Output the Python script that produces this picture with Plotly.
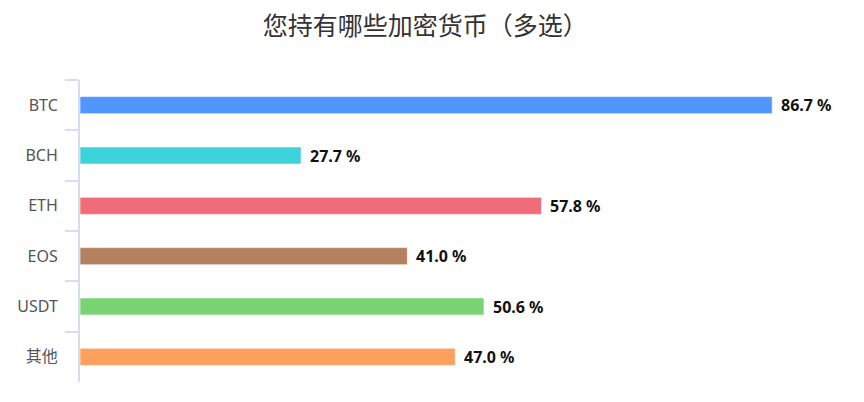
import plotly.graph_objs as go

categories = ['BTC', 'BCH', 'ETH', 'EOS', 'USDT', '其他']
values = [86.7, 27.7, 57.8, 41.0, 50.6, 47.0]
labels = ['86.7 %', '27.7 %', '57.8 %', '41.0 %', '50.6 %', '47.0 %']
colors = ['#5096ff', '#3dd3da', '#f16c7a', '#b3815f', '#79d574', '#ffa05f']

FONT = 'Noto Sans, Noto Sans CJK SC, sans-serif'
AXIS_COLOR = '#d5ddef'

fig = go.Figure()
fig.add_trace(go.Bar(
    x=values,
    y=categories,
    orientation='h',
    marker=dict(color=colors, line=dict(color='rgba(255,255,255,0.6)', width=1)),
    showlegend=False,
    hoverinfo='x+y'
))

for v, c, t in zip(values, categories, labels):
    fig.add_annotation(
        x=v, y=c, text='<b>%s</b>' % t,
        xanchor='left', yanchor='middle', xshift=7,
        showarrow=False,
        font=dict(family=FONT, size=16, color='#111111')
    )

# page body adds an 8px margin, so margins here are 8px smaller
fig.update_layout(
    width=864,
    height=402,
    plot_bgcolor='white',
    paper_bgcolor='white',
    bargap=0.66,
    margin=dict(l=72, r=12, t=72, b=28),
    title=dict(
        text='您持有哪些加密货币（多选）',
        x=0.483, xanchor='center', xref='container',
        y=0.955, yanchor='middle',
        font=dict(family=FONT, size=25, color='#333333')
    ),
    xaxis=dict(
        range=[0, 97.7],
        showticklabels=False,
        showgrid=False,
        zeroline=False,
        showline=False
    ),
    yaxis=dict(
        autorange='reversed',
        automargin=False,
        showline=True,
        linecolor=AXIS_COLOR,
        linewidth=2,
        ticks='outside',
        tickson='boundaries',
        ticklen=13,
        tickcolor=AXIS_COLOR,
        tickwidth=2,
        showgrid=False,
        ticklabelstandoff=17,
        tickfont=dict(family=FONT, size=16, color='#555555')
    )
)

fig.write_html('out.html')
